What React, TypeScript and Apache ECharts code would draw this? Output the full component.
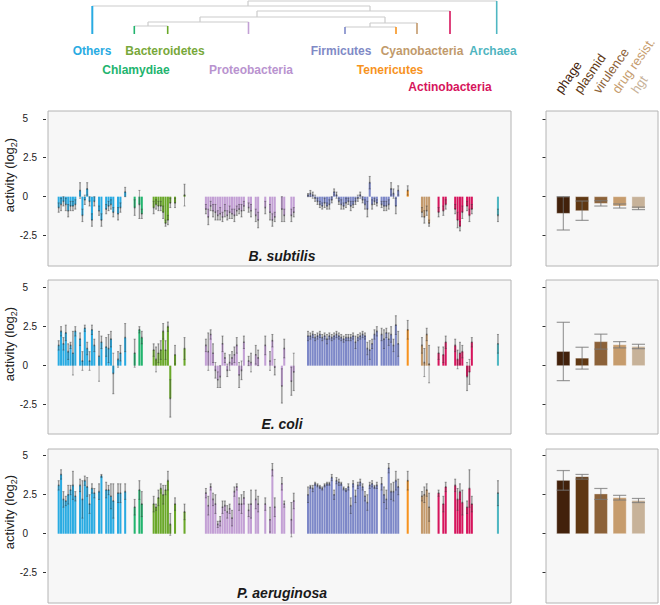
import React, { useEffect, useRef } from 'react';
import * as echarts from 'echarts';

const FONT = "'Liberation Sans', Arial, Helvetica, sans-serif";

// ---------- taxa ----------
const taxonCodes = ['O', 'C', 'B', 'P', 'F', 'T', 'Y', 'A', 'R'];
const taxonNames = ['Others', 'Chlamydiae', 'Bacteroidetes', 'Proteobacteria', 'Firmicutes', 'Tenericutes', 'Cyanobacteria', 'Actinobacteria', 'Archaea'];
const taxonColors = ['#29abe2', '#22b46e', '#6aa829', '#c3a0d5', '#7d88c8', '#f7931e', '#c49a6c', '#d6145c', '#4fb7c2'];
const labelColors = ['#29abe2', '#22b46e', '#78a83a', '#b993cf', '#7f8ac6', '#f7931e', '#c19a6b', '#d6145c', '#4fb5bf'];

// slot layout along the x axis ('.' = empty slot)
const slotRuns: [string, number][] = [
  ['.', 4], ['O', 8], ['.', 1], ['O', 7], ['.', 1], ['O', 2], ['.', 1], ['O', 4], ['.', 1], ['O', 2], ['.', 1], ['O', 1],
  ['.', 3], ['C', 1], ['.', 1], ['C', 2],
  ['.', 4], ['B', 8], ['.', 1], ['B', 1], ['.', 3], ['B', 1],
  ['.', 8], ['P', 17], ['.', 1], ['P', 2], ['.', 1], ['P', 2], ['.', 2], ['P', 1], ['.', 1], ['P', 3], ['.', 2], ['P', 2], ['.', 2], ['P', 2],
  ['.', 5], ['F', 30], ['.', 1], ['F', 8],
  ['.', 3], ['T', 1],
  ['.', 5], ['Y', 4],
  ['.', 3], ['A', 1], ['.', 1], ['A', 2], ['.', 3], ['A', 4], ['.', 1], ['A', 3],
  ['.', 10], ['R', 1], ['.', 5],
];

// ---------- B. subtilis ----------
const bsubValues = [
  -0.7, -0.5, -0.3, -0.5, -0.9, -0.6, -0.6, -0.5, 0.4, -1.2, -0.2, 0.5, -0.3, -1.5, -0.3, -0.9, -1.5, -0.8, -0.6, -0.5, -1.0, -1.1, -0.7, 0.3,
  -0.7, -0.5, -1.1,
  -0.7, -0.5, -0.6, -0.6, -1.0, -1.7, -1.5, -0.4, -0.4, 0.1,
  -0.8, -1.3, -0.6, -0.9, -1.0, -1.2, -1.1, -1.3, -0.9, -1.2, -1.0, -1.1, -1.2, -0.9, -0.8, -0.9, -0.6, -0.7, -0.9, -1.2, -1.5, -0.7, -1.0, -1.5, -1.3, -0.8, -1.2, -1.2, -1.0,
  0.1, 0.2, 0.1, -0.1, -0.3, -0.5, -0.6, -0.4, -0.6, -0.5, -0.2, 0.3, 0.1, -0.3, -0.5, -0.6, -0.4, -0.3, -0.6, -0.5, -0.3, -0.1, 0.1, -0.2, -0.5, -0.8, 0.9, -0.5, -0.3, -0.4,
  -0.5, -0.6, -0.6, -0.5, 0.5, 0.2, -0.6, 0.4,
  0.4,
  -1.0, -1.3, -0.9, -1.7,
  -1.0, -0.9, -0.5, -0.8, -1.5, -1.9, -1.0, -0.6, -1.2, -0.8,
  -1.2,
];
const bsubErrors = [
  0.3, 0.4, 0.3, 0.4, 0.4, 0.3, 0.3, 0.3, 0.5, 0.4, 0.3, 0.4, 0.3, 0.4, 0.3, 0.3, 0.4, 0.3, 0.3, 0.3, 0.3, 0.4, 0.3, 0.3,
  0.5, 0.9, 0.3,
  0.4, 0.3, 0.3, 0.3, 0.4, 0.2, 0.3, 0.3, 0.3, 0.7,
  0.3, 0.5, 0.3, 0.4, 0.5, 0.3, 0.4, 0.3, 0.4, 0.3, 0.4, 0.3, 0.4, 0.3, 0.3, 0.4, 0.3, 0.3, 0.4, 0.4, 0.5, 0.4, 0.5, 0.4, 0.3, 0.8, 0.4, 0.4, 0.3,
  0.1, 0.2, 0.2, 0.2, 0.2, 0.2, 0.2, 0.3, 0.2, 0.3, 0.2, 0.2, 0.2, 0.2, 0.3, 0.2, 0.3, 0.2, 0.3, 0.2, 0.2, 0.2, 0.2, 0.2, 0.3, 0.5, 0.4, 0.3, 0.2, 0.2,
  0.2, 0.3, 0.3, 0.3, 0.4, 0.3, 0.5, 0.3,
  0.3,
  0.3, 0.4, 0.3, 0.2,
  0.3, 0.3, 0.3, 0.3, 0.5, 0.3, 0.4, 0.3, 0.4, 0.3,
  0.4,
];

// ---------- E. coli ----------
const ecoliValues = [
  1.3, 2.2, 1.4, 2.1, 0.9, 1.3, 0.8, 2.2, 1.7, 0.3, 2.4, 1.1, 0.3, 2.3, 1.3, 0.6, 1.5, 1.2, 1.1, 1.7, -0.5, 0.4, 0.8, 1.8,
  0.8, 2.3, 1.8,
  1.0, 0.4, 0.8, 1.0, 2.2, 1.0, 2.5, -2.1, 0.7, 1.1,
  1.3, 0.9, 2.0, 0.8, -0.3, -0.9, -0.7, 1.4, 0.5, -0.3, 0.2, 0.5, 0.7, 1.3, -0.6, -0.3, 1.5, 0.3, 0.2, 0.7, 0.5, 1.3, 0.3, 1.6, -0.1, -1.3, 1.1, -1.0, -0.4,
  1.9, 1.9, 2.0, 1.8, 1.9, 2.0, 1.8, 1.9, 1.7, 1.9, 1.8, 1.9, 2.0, 1.9, 1.8, 1.7, 1.8, 1.8, 1.8, 1.9, 1.5, 1.8, 1.9, 2.0, 1.9, 1.1, 1.0, 1.4, 2.0, 2.2,
  2.0, 1.7, 2.1, 1.7, 2.0, 1.3, 2.6, 1.4,
  2.3,
  1.3, 0.2, 2.0, 0.1,
  0.8, 0.7, 1.5, 1.3, 0.4, 0.8, 0.9, -0.7, -0.4, 1.5,
  1.4,
];
const ecoliErrors = [
  0.3, 0.3, 0.4, 0.5, 0.5, 0.2, 1.4, 0.3, 0.4, 0.6, 0.2, 0.4, 0.6, 0.3, 0.4, 1.6, 0.4, 0.6, 0.9, 0.5, 1.3, 0.5, 0.5, 0.9,
  0.9, 0.2, 0.4,
  0.4, 0.8, 0.6, 0.6, 0.5, 0.6, 0.3, 1.2, 0.6, 0.7,
  0.4, 1.2, 0.3, 0.6, 0.5, 0.5, 0.7, 0.5, 0.3, 0.4, 0.5, 0.4, 0.5, 0.5, 0.8, 0.6, 0.4, 0.3, 0.6, 0.6, 0.5, 0.6, 0.6, 0.4, 0.5, 1.1, 0.6, 0.9, 1.2,
  0.3, 0.2, 0.2, 0.2, 0.2, 0.2, 0.2, 0.2, 0.3, 0.2, 0.2, 0.2, 0.2, 0.2, 0.2, 0.2, 0.2, 0.2, 0.2, 0.2, 0.4, 0.2, 0.2, 0.2, 0.2, 0.4, 0.6, 0.3, 0.3, 0.3,
  0.4, 0.6, 0.3, 0.4, 0.5, 0.4, 0.6, 0.8,
  0.6,
  0.5, 0.9, 0.4, 1.2,
  0.4, 0.5, 0.4, 0.4, 0.6, 0.7, 0.4, 0.9, 0.8, 0.3,
  0.6,
];

// ---------- P. aeruginosa ----------
const paerValues = [
  3.1, 3.8, 2.2, 2.1, 2.5, 2.8, 3.1, 2.4, 3.1, 2.2, 3.4, 3.0, 1.9, 2.9, 2.6, 2.7, 3.7, 2.8, 2.8, 2.4, 2.1, 2.6, 2.6, 2.7,
  1.7, 2.8, 1.9,
  1.9, 1.7, 2.3, 2.9, 2.5, 2.8, 3.4, 0.6, 1.9, 1.4,
  2.6, 1.8, 3.0, 2.2, 1.9, 0.6, 0.8, 1.7, 1.8, 1.4, 1.6, 1.0, 2.7, 3.0, 1.9, 1.9, 2.3, 1.5, 1.9, 2.2, 1.9, 1.9, 0.9, 4.1, 1.7, 3.2, 1.9, 0.9, 2.1,
  2.5, 3.0, 2.9, 3.2, 3.1, 3.0, 2.9, 3.1, 3.2, 3.2, 3.6, 2.5, 3.4, 3.3, 3.2, 2.9, 2.8, 3.0, 1.8, 3.2, 2.4, 3.1, 3.3, 3.0, 2.4, 2.0, 3.1, 3.2, 3.0, 3.1,
  3.2, 2.5, 2.2, 4.2, 2.7, 2.7, 3.4, 3.0,
  3.4,
  2.4, 2.5, 2.8, 1.7,
  2.6, 1.9, 3.0, 3.1, 2.2, 2.7, 2.0, 1.7, 2.9, 1.9,
  2.6,
];
const paerErrors = [
  0.3, 0.3, 0.5, 0.3, 0.6, 0.3, 0.9, 0.3, 0.4, 1.2, 0.3, 0.6, 0.6, 0.3, 0.3, 0.5, 0.1, 0.5, 0.3, 0.8, 1.1, 0.6, 0.6, 0.5,
  0.5, 0.6, 0.8,
  0.5, 0.2, 0.5, 0.3, 0.6, 0.3, 0.6, 0.7, 0.4, 0.5,
  0.3, 0.6, 0.2, 0.4, 0.6, 0.2, 0.3, 0.4, 0.3, 0.4, 0.3, 0.5, 0.3, 0.2, 0.4, 0.6, 0.4, 0.4, 0.9, 0.6, 0.5, 0.4, 0.8, 0.4, 0.6, 0.4, 0.2, 1.1, 0.5,
  0.5, 0.1, 0.2, 0.1, 0.1, 0.1, 0.1, 0.1, 0.1, 0.1, 0.2, 0.3, 0.2, 0.2, 0.1, 0.1, 0.1, 0.2, 0.5, 0.2, 0.4, 0.2, 0.2, 0.2, 0.3, 0.5, 0.2, 0.2, 0.1, 0.2,
  0.4, 0.5, 0.6, 0.3, 0.5, 0.6, 0.6, 0.5,
  0.6,
  0.3, 0.5, 0.4, 0.9,
  0.2, 0.5, 0.3, 0.4, 0.7, 0.5, 0.8, 0.4, 1.2, 0.5,
  0.8,
];

// ---------- mobile element categories (right panels) ----------
const mgeCategories = ['phage', 'plasmid', 'virulence', 'drug resist.', 'hgt'];
const mgeColors = ['#42210b', '#603813', '#8c6239', '#c69c6d', '#c7b299'];
const bsubMgeMean = [-1.07, -0.9, -0.43, -0.6, -0.75];
const bsubMgeSd = [1.07, 0.62, 0.17, 0.13, 0.08];
const ecoliMgeMean = [0.91, 0.48, 1.54, 1.34, 1.23];
const ecoliMgeSd = [1.87, 0.7, 0.48, 0.2, 0.14];
const paerMgeMean = [3.42, 3.65, 2.55, 2.31, 2.13];
const paerMgeSd = [0.63, 0.15, 0.35, 0.15, 0.13];

const yTicks = [-2.5, 0, 2.5, 5];

const slots: string[] = [];
slotRuns.forEach(([c, n]) => {
  for (let i = 0; i < n; i++) slots.push(c);
});

function errRender(params: any, api: any) {
  const idx = api.value(0);
  const v = api.value(1);
  const e = api.value(2);
  const dir = v >= 0 ? 1 : -1;
  const pMid = api.coord([idx, v]);
  const pOut = api.coord([idx, v + dir * e]);
  const pIn = api.coord([idx, v - dir * e]);
  const bw = api.size([1, 0])[0];
  const cap = bw * 0.42;
  const gw = bw * 0.8;
  const cx = pMid[0];
  return {
    type: 'group',
    children: [
      {
        type: 'rect',
        shape: { x: cx - gw / 2, y: Math.min(pMid[1], pOut[1]), width: gw, height: Math.abs(pOut[1] - pMid[1]) },
        style: { fill: 'rgba(185,185,185,0.6)' },
      },
      { type: 'line', shape: { x1: cx, y1: pOut[1], x2: cx, y2: pIn[1] }, style: { stroke: 'rgba(60,60,60,0.75)', lineWidth: 0.6 } },
      { type: 'line', shape: { x1: cx - cap, y1: pOut[1], x2: cx + cap, y2: pOut[1] }, style: { stroke: 'rgba(60,60,60,0.75)', lineWidth: 0.6 } },
      { type: 'line', shape: { x1: cx - cap, y1: pIn[1], x2: cx + cap, y2: pIn[1] }, style: { stroke: 'rgba(60,60,60,0.75)', lineWidth: 0.6 } },
      { type: 'rect', shape: { x: cx - bw * 0.32, y: pMid[1] - 0.8, width: bw * 0.64, height: 1.6 }, style: { fill: 'rgba(40,40,40,0.55)' } },
    ],
  };
}

function mgeRender(params: any, api: any) {
  const i = api.value(0);
  const m = api.value(1);
  const s = api.value(2);
  const base = api.coord([i, 0]);
  const top = api.coord([i, m]);
  const hi = api.coord([i, m + s]);
  const lo = api.coord([i, m - s]);
  const w = api.size([0.7, 0])[0];
  const cx = base[0];
  return {
    type: 'group',
    children: [
      {
        type: 'rect',
        shape: { x: cx - w / 2, y: Math.min(base[1], top[1]), width: w, height: Math.abs(top[1] - base[1]) },
        style: { fill: mgeColors[i], stroke: 'rgba(255,255,255,0.35)', lineWidth: 1 },
      },
      { type: 'line', shape: { x1: cx, y1: hi[1], x2: cx, y2: lo[1] }, style: { stroke: 'rgba(110,110,110,0.8)', lineWidth: 1 } },
      { type: 'line', shape: { x1: cx - w / 2, y1: hi[1], x2: cx + w / 2, y2: hi[1] }, style: { stroke: 'rgba(120,120,120,0.75)', lineWidth: 1.2 } },
      { type: 'line', shape: { x1: cx - w / 2, y1: lo[1], x2: cx + w / 2, y2: lo[1] }, style: { stroke: 'rgba(120,120,120,0.75)', lineWidth: 1.2 } },
    ],
  };
}

function buildOption() {
  const panels = [
    { name: 'B. subtilis', values: bsubValues, errors: bsubErrors, mean: bsubMgeMean, sd: bsubMgeSd, top: 111, height: 155, min: -4.45, max: 5.5, titleY: 256, yTitleY: 175 },
    { name: 'E. coli', values: ecoliValues, errors: ecoliErrors, mean: ecoliMgeMean, sd: ecoliMgeSd, top: 280, height: 154, min: -4.38, max: 5.49, titleY: 424, yTitleY: 344 },
    { name: 'P. aeruginosa', values: paerValues, errors: paerErrors, mean: paerMgeMean, sd: paerMgeSd, top: 449, height: 154, min: -4.44, max: 5.43, titleY: 592.5, yTitleY: 512 },
  ];

  const grid: any[] = [];
  const xAxis: any[] = [];
  const yAxis: any[] = [];
  const series: any[] = [];
  const graphic: any[] = [];

  const categoryData = slots.map((_, i) => String(i));

  panels.forEach((p, pi) => {
    const gl = pi * 2;
    const gr = pi * 2 + 1;
    grid.push({ left: 48, top: p.top, width: 463, height: p.height, show: true, backgroundColor: '#f7f7f7', borderColor: '#b4b4b4', borderWidth: 1 });
    grid.push({ left: 546, top: p.top, width: 112, height: p.height, show: true, backgroundColor: '#f7f7f7', borderColor: '#b4b4b4', borderWidth: 1 });
    xAxis.push({ type: 'category', gridIndex: gl, data: categoryData, show: false, boundaryGap: true });
    xAxis.push({ type: 'value', gridIndex: gr, min: -0.92, max: 5.04, show: false });
    const yBase = {
      type: 'value',
      min: p.min,
      max: p.max,
      axisLine: { show: false, onZero: false },
      splitLine: { show: false },
      axisTick: { show: true, length: 3, customValues: yTicks, lineStyle: { color: '#333', width: 1 } },
    };
    yAxis.push({
      ...yBase,
      gridIndex: gl,
      position: 'left',
      offset: 2,
      axisLabel: {
        show: true,
        customValues: yTicks,
        fontSize: 10,
        fontFamily: FONT,
        color: '#222',
        margin: 9,
        formatter: (v: number) => (Number.isInteger(v) ? `${v}{p| }` : `${v}`),
        rich: { p: { width: 9, fontSize: 10 } },
      },
    });
    yAxis.push({ ...yBase, gridIndex: gr, position: 'left', offset: 0.5, axisLabel: { show: false } });

    const barData: any[] = [];
    const errData: any[] = [];
    let k = 0;
    slots.forEach((c, i) => {
      if (c === '.') {
        barData.push('-');
        return;
      }
      const ti = taxonCodes.indexOf(c);
      barData.push({ value: p.values[k], itemStyle: { color: taxonColors[ti] } });
      errData.push([i, p.values[k], p.errors[k]]);
      k++;
    });
    series.push({
      type: 'bar',
      xAxisIndex: gl,
      yAxisIndex: gl,
      data: barData,
      barCategoryGap: '14%',
      silent: true,
    });
    series.push({
      type: 'custom',
      xAxisIndex: gl,
      yAxisIndex: gl,
      data: errData,
      renderItem: errRender,
      silent: true,
      z: 3,
    });
    series.push({
      type: 'custom',
      xAxisIndex: gr,
      yAxisIndex: gr,
      data: mgeCategories.map((_, i) => [i, p.mean[i], p.sd[i]]),
      renderItem: mgeRender,
      silent: true,
      z: 3,
    });

    graphic.push({
      type: 'text',
      x: 282,
      y: p.titleY,
      style: {
        text: p.name,
        fontSize: 14,
        fontWeight: 'bold',
        fontStyle: 'italic',
        fontFamily: FONT,
        fill: '#1a1a1a',
        align: 'center',
        verticalAlign: 'middle',
        textAlign: 'center',
        textVerticalAlign: 'middle',
      },
      z: 10,
    });
    graphic.push({
      type: 'text',
      x: 9,
      y: p.yTitleY,
      rotation: Math.PI / 2,
      style: {
        text: '{a|activity (log}{s|2}{a|)}',
        rich: {
          a: { fontSize: 13, fontFamily: FONT, fill: '#222', color: '#222', lineHeight: 18, verticalAlign: 'middle' },
          s: { fontSize: 9, fontFamily: FONT, fill: '#222', color: '#222', lineHeight: 18, verticalAlign: 'bottom' },
        },
        align: 'center',
        verticalAlign: 'middle',
        textAlign: 'center',
        textVerticalAlign: 'middle',
      },
      z: 10,
    });
  });

  // dendrogram
  const gray = '#cccccc';
  const grayLines: number[][] = [
    [248, 1, 496.7, 1], [248, 1, 248, 6], [92.3, 6, 370, 6], [370, 6, 370, 11], [257, 11, 450, 11], [257, 11, 257, 17],
    [200, 17, 385, 17], [200, 17, 200, 22], [148, 22, 248.5, 22], [148, 22, 148, 26], [134.3, 26, 167.7, 26],
    [385, 17, 385, 23], [370, 23, 417, 23], [370, 23, 370, 27], [345, 27, 396, 27],
  ];
  grayLines.forEach((l) => {
    graphic.push({ type: 'line', shape: { x1: l[0], y1: l[1], x2: l[2], y2: l[3] }, style: { stroke: gray, lineWidth: 1.2 }, silent: true });
  });
  const leafLines: number[][] = [
    [92.3, 6], [134.3, 26], [167.7, 26], [248.5, 22], [345, 27], [396, 27], [417, 23], [450, 11], [496.7, 1],
  ];
  leafLines.forEach((l, i) => {
    graphic.push({ type: 'line', shape: { x1: l[0], y1: l[1], x2: l[0], y2: 34 }, style: { stroke: taxonColors[i], lineWidth: i === 0 ? 2 : 1.6 }, silent: true });
  });

  const labelPos: number[][] = [
    [92, 51], [136, 70], [165, 51], [251, 70], [341, 51], [390, 70], [422, 51], [450, 86.5], [493, 51],
  ];
  taxonNames.forEach((n, i) => {
    graphic.push({
      type: 'text',
      x: labelPos[i][0],
      y: labelPos[i][1],
      style: {
        text: n,
        fontSize: 12,
        fontWeight: 'bold',
        fontFamily: FONT,
        fill: labelColors[i],
        align: 'center',
        verticalAlign: 'middle',
        textAlign: 'center',
        textVerticalAlign: 'middle',
      },
    });
  });

  const mgeAnchorX = [558, 577, 596, 615, 634];
  mgeCategories.forEach((n, i) => {
    graphic.push({
      type: 'text',
      x: mgeAnchorX[i],
      y: 92,
      rotation: (55 * Math.PI) / 180,
      style: {
        text: n,
        fontSize: 13,
        fontFamily: FONT,
        fill: mgeColors[i],
        align: 'left',
        verticalAlign: 'middle',
        textAlign: 'left',
        textVerticalAlign: 'middle',
      },
    });
  });

  return {
    animation: false,
    backgroundColor: '#ffffff',
    grid,
    xAxis,
    yAxis,
    series,
    graphic,
  };
}

export default function App() {
  const ref = useRef<HTMLDivElement>(null);
  useEffect(() => {
    if (!ref.current) return;
    const chart = echarts.init(ref.current, null, { renderer: 'svg' });
    chart.setOption(buildOption() as any);
    return () => {
      chart.dispose();
    };
  }, []);
  return <div ref={ref} style={{ position: 'fixed', left: 0, top: 0, width: 660, height: 605 }} />;
}
